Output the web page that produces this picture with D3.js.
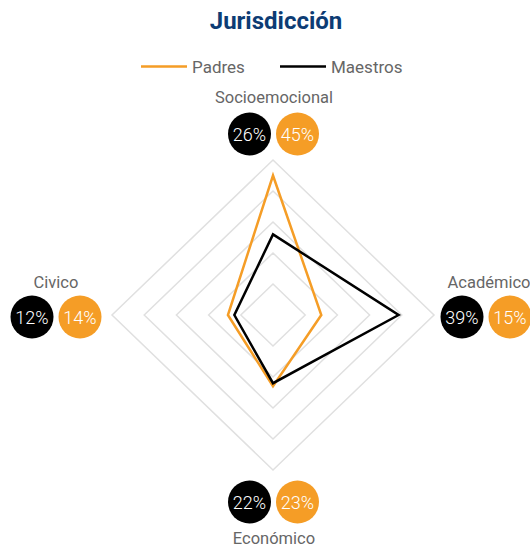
<!DOCTYPE html>
<html lang="es">
<head>
<meta charset="UTF-8">
<title>Jurisdicción</title>
<style>
  body { margin: 0; background: #fff; }
  text { font-family: Roboto, "Noto Sans", sans-serif; }
</style>
</head>
<body>
<script src="https://d3js.org/d3.v7.min.js"></script>
<script>
    // data
    const axes = ["Socioemocional", "Académico", "Económico", "Civico"];
    const padres = [45, 15, 23, 14];
    const maestros = [26, 39, 22, 12];
    const seriesNames = ["Padres", "Maestros"];
    const ringLevels = [10, 20, 30, 40, 50];

    const width = 530, height = 551;
    const cx = 273, cy = 315;
    const orange = "#f59d26", black = "#000000";

    const svg = d3.select("body").append("svg")
        .attr("width", width)
        .attr("height", height);

    // title
    svg.append("text")
        .attr("x", 276).attr("y", 29)
        .attr("text-anchor", "middle")
        .attr("font-size", 24).attr("font-weight", "bold")
        .attr("fill", "#0d3c74")
        .text("Jurisdicción");

    // legend
    const legend = svg.append("g");
    const legendItems = [{name: seriesNames[0], color: orange, x: 141}, {name: seriesNames[1], color: black, x: 280}];
    legendItems.forEach(d => {
        legend.append("line")
            .attr("x1", d.x).attr("x2", d.x + 46)
            .attr("y1", 66.5).attr("y2", 66.5)
            .attr("stroke", d.color).attr("stroke-width", 2.5);
        legend.append("text")
            .attr("x", d.x + 51).attr("y", 72.5)
            .attr("font-size", 17).attr("fill", "#666")
            .text(d.name);
    });

    // radial scales (chart is slightly wider than tall)
    const rX = d3.scaleLinear().domain([0, 50]).range([0, 161]);
    const rY = d3.scaleLinear().domain([0, 50]).range([0, 155]);
    const angle = i => i * Math.PI / 2; // 0 = top, clockwise

    function pt(i, v) {
        const a = angle(i);
        return [cx + Math.sin(a) * rX(v), cy - Math.cos(a) * rY(v)];
    }

    const line = d3.line().curve(d3.curveLinearClosed);

    // grid rings
    svg.append("g").selectAll("path")
        .data(ringLevels)
        .join("path")
        .attr("d", lv => line(axes.map((a, i) => pt(i, lv))))
        .attr("fill", "none")
        .attr("stroke", "#e0e0e0")
        .attr("stroke-width", 1.5);

    // series
    const series = [{vals: padres, color: orange}, {vals: maestros, color: black}];
    svg.append("g").selectAll("path")
        .data(series)
        .join("path")
        .attr("d", s => line(s.vals.map((v, i) => pt(i, v))))
        .attr("fill", "none")
        .attr("stroke", s => s.color)
        .attr("stroke-width", 2.5)
        .attr("stroke-linejoin", "miter");

    // axis labels with value bubbles
    const labelPos = [
        {lx: 274, ly: 103, by: 134, bx: 273.5},
        {lx: 489, ly: 288, by: 317, bx: 486},
        {lx: 274, ly: 544, by: 502, bx: 273.5},
        {lx: 56, ly: 288, by: 317, bx: 56}
    ];

    axes.forEach((name, i) => {
        const p = labelPos[i];
        svg.append("text")
            .attr("x", p.lx).attr("y", p.ly)
            .attr("text-anchor", "middle")
            .attr("font-size", 16.5).attr("fill", "#666")
            .text(name);
        const bubbles = [{v: maestros[i], color: black, dx: -24}, {v: padres[i], color: orange, dx: 24}];
        bubbles.forEach(b => {
            svg.append("circle")
                .attr("cx", p.bx + b.dx).attr("cy", p.by)
                .attr("r", 21.5)
                .attr("fill", b.color);
            svg.append("text")
                .attr("x", p.bx + b.dx).attr("y", p.by + 6.5)
                .attr("text-anchor", "middle")
                .attr("font-size", 18).attr("font-weight", 300)
                .attr("fill", "#fff")
                .text(b.v + "%");
        });
    });
</script>
</body>
</html>
